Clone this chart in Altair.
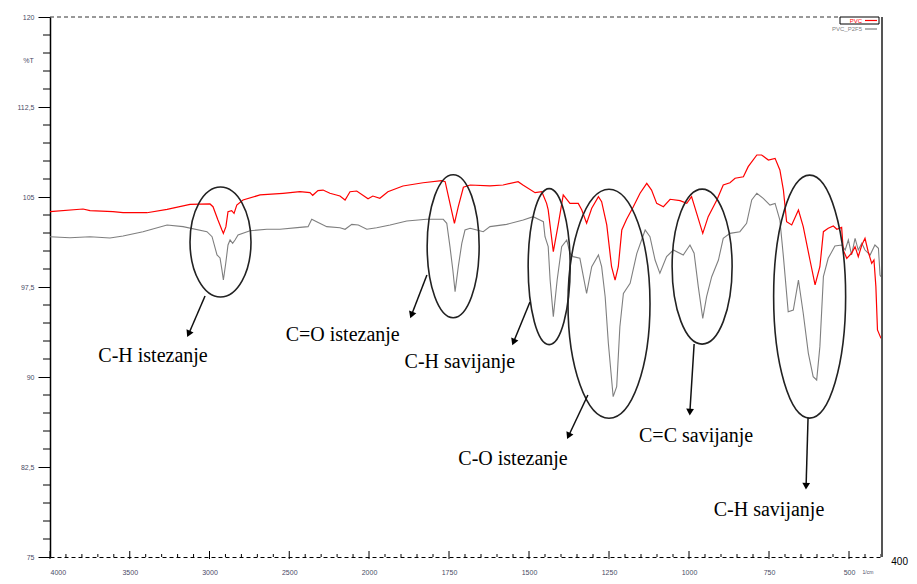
import altair as alt
import pandas as pd

# ---------------- data ----------------
pvc_wn = [4000, 3793, 3749, 3605, 3542, 3392, 3266, 3122, 2997, 2978, 2947, 2922, 2913, 2897, 2884, 2861,
          2846, 2829, 2790, 2683, 2539, 2433, 2370, 2353, 2320, 2288, 2245, 2182, 2150, 2119, 2077, 2006,
          1988, 1966, 1941, 1894, 1831, 1773, 1762, 1747, 1733, 1721, 1705, 1684, 1622, 1581, 1534, 1519,
          1481, 1460, 1445, 1440, 1424, 1408, 1393, 1372, 1346, 1335, 1320, 1304, 1283, 1273, 1257, 1242,
          1231, 1221, 1210, 1195, 1174, 1153, 1132, 1117, 1101, 1080, 1059, 1028, 1007, 992, 976, 957,
          940, 913, 893, 872, 856, 830, 815, 788, 773, 752, 731, 716, 705, 695, 679, 658, 643, 622, 606,
          591, 580, 565, 549, 538, 523, 518, 507, 492, 481, 471, 460, 450, 440, 429, 422, 416, 411, 400]
pvc_t = [103.78, 104.0, 103.86, 103.78, 103.69, 103.69, 103.97, 104.39, 104.42, 104.19, 103.08, 102.25,
         101.97, 102.53, 103.78, 103.86, 103.64, 104.33, 104.75, 105.17, 105.31, 105.44, 105.36, 105.14,
         105.53, 105.58, 105.31, 105.08, 104.75, 105.44, 105.5, 104.86, 105.08, 104.89, 105.44, 105.92,
         106.19, 106.36, 106.28, 104.47, 102.81, 104.19, 105.81, 106.0, 105.92, 106.0, 106.28, 106.0,
         105.36, 105.44, 104.47, 103.92, 100.44, 102.81, 105.17, 104.47, 104.47, 103.92, 102.81, 104.06,
         105.03, 104.61, 102.67, 99.19, 98.08, 99.19, 102.25, 103.14, 104.19, 105.31, 106.14, 105.58,
         104.47, 104.19, 104.81, 104.7, 104.47, 105.03, 103.64, 101.97, 103.36, 104.75, 106.0, 106.19,
         106.56, 106.69, 107.53, 108.5, 108.5, 108.08, 108.22, 107.25, 105.58, 102.94, 102.67, 103.92,
         102.53, 99.75, 97.67, 99.19, 102.11, 102.39, 102.58, 102.31, 102.47, 100.58, 99.89, 100.31,
         100.86, 100.03, 101.0, 101.56, 100.44, 99.47, 99.75, 97.53, 93.92, 93.22]

p2f5_wn = [4000, 3875, 3749, 3624, 3542, 3417, 3266, 3166, 3016, 2984, 2953, 2934, 2922, 2913, 2898, 2884,
           2871, 2855, 2840, 2821, 2746, 2640, 2558, 2433, 2382, 2359, 2328, 2265, 2182, 2150, 2108, 2067,
           2014, 1976, 1934, 1882, 1820, 1768, 1757, 1747, 1738, 1731, 1721, 1710, 1700, 1684, 1663, 1643,
           1622, 1570, 1518, 1487, 1466, 1455, 1450, 1440, 1434, 1424, 1412, 1398, 1382, 1372, 1362, 1341,
           1320, 1304, 1283, 1273, 1262, 1252, 1237, 1226, 1216, 1205, 1184, 1163, 1137, 1122, 1106, 1091,
           1070, 1049, 1018, 997, 984, 971, 957, 945, 929, 908, 893, 872, 841, 820, 804, 788, 768, 747,
           731, 716, 705, 690, 674, 658, 643, 627, 612, 601, 591, 580, 565, 544, 523, 512, 502, 492, 481,
           471, 460, 450, 434, 419, 408, 403, 400]
p2f5_t = [101.69, 101.61, 101.69, 101.58, 101.75, 102.11, 102.67, 102.53, 102.11, 101.69, 100.17, 99.92,
          98.92, 98.08, 99.5, 101.0, 101.42, 101.14, 101.42, 101.83, 102.19, 102.31, 102.31, 102.47, 102.53,
          103.14, 102.94, 102.53, 102.44, 102.31, 102.72, 102.67, 102.31, 102.44, 102.67, 103.0, 103.14,
          103.14, 102.81, 100.86, 98.92, 97.11, 99.19, 101.14, 102.25, 102.39, 102.25, 102.11, 102.53,
          102.72, 103.08, 103.36, 103.08, 102.94, 101.69, 100.86, 98.08, 95.03, 98.08, 100.86, 101.42,
          100.31, 100.03, 99.89, 96.97, 99.19, 100.17, 99.19, 96.69, 92.81, 88.36, 89.19, 94.19, 96.97,
          97.81, 100.31, 102.25, 101.69, 99.75, 98.64, 100.03, 100.58, 100.17, 101.0, 100.31, 97.53, 94.89,
          96.69, 98.36, 99.75, 101.56, 101.97, 102.11, 102.81, 104.75, 105.31, 104.89, 104.33, 104.47,
          103.08, 100.03, 95.44, 95.58, 98.08, 95.31, 91.97, 90.03, 89.75, 92.53, 98.36, 99.89, 100.92,
          101.0, 100.58, 101.42, 100.17, 101.56, 100.58, 101.14, 100.58, 100.17, 101.0, 100.72, 98.5, 98.36]

series_names = ["PVC", "PVC_P2F5"]
series_colors = ["#ff0000", "#7f7f7f"]

x_major = [4000, 3500, 3000, 2500, 2000, 1750, 1500, 1250, 1000, 750, 500]
y_major = [75, 82.5, 90, 97.5, 105, 112.5, 120]

# annotations: label, label position, ellipse centre, ellipse radii (px), arrow start/end
ann_labels = ["C-H istezanje", "C=O istezanje", "C-H savijanje", "C-O istezanje", "C=C savijanje", "C-H savijanje"]
ann_label_wn = [3354, 2165, 1716, 1550, 978, 750]
ann_label_t = [91.75, 93.5, 91.25, 83.17, 85.08, 78.92]
ell_wn = [2931, 1737, 1437, 1250, 959, 623]
ell_t = [101.25, 100.9, 99.2, 96.1, 99.2, 96.7]
ell_rx = [30.5, 26, 21, 41, 30, 36]
ell_ry = [55, 71.5, 78, 114.5, 77.5, 121.5]
arr_wn0 = [3028, 1819, 1497, 1316, 984, 628]
arr_t0 = [96.75, 98.5, 96.25, 88.5, 92.75, 86.58]
arr_wn1 = [3128, 1866, 1547, 1375, 997, 634]
arr_t1 = [93.67, 95.25, 93.0, 85.17, 87.17, 81.0]
arr_angle = [205, 201, 202, 205, 183, 182]

# ---------------- frames ----------------
spec = pd.concat([
    pd.DataFrame({"wn": pvc_wn, "t": pvc_t, "s": "PVC"}),
    pd.DataFrame({"wn": p2f5_wn, "t": p2f5_t, "s": "PVC_P2F5"}),
])
xminor = [v for v in range(2000, 4001, 100) if v not in x_major] + \
         [v for v in range(400, 2000, 50) if v not in x_major]
yminor = [75 + 1.5 * i for i in range(31) if i % 5 != 0]

W, H = 831, 540
xs = alt.Scale(domain=[4000, 2000, 400], range=[0, 319, W], nice=False, zero=False)
ys = alt.Scale(domain=[75, 120], nice=False, zero=False)
cs = alt.Scale(domain=series_names, range=series_colors)

label_color = "#4a4a66"

base_x = alt.X("wn:Q", scale=xs, axis=alt.Axis(
    values=x_major, format="d", title=None, grid=False, tickSize=0,
    labelFontSize=7, labelColor=label_color, labelPadding=11, labelFont="Liberation Sans",
    domainColor="#000", domainDash=[4, 3], domainWidth=1))
base_y = alt.Y("t:Q", scale=ys, axis=alt.Axis(
    values=y_major, format=".1~f", title="%T", titleAngle=0, titleX=-22, titleY=46, titleFontSize=7,
    titleFontWeight="normal", titleColor=label_color, titleFont="Liberation Sans",
    grid=False, tickSize=12, tickColor="#000", labelFontSize=7, labelColor=label_color,
    labelFont="Liberation Sans", labelPadding=4, labelExpr="replace(datum.label, '.', ',')",
    domainColor="#000", domainWidth=1.5))

grey_line = alt.Chart(spec[spec.s == "PVC_P2F5"]).mark_line(strokeWidth=1.1, color=series_colors[1]).encode(
    x=base_x, y=base_y)
red_line = alt.Chart(spec[spec.s == "PVC"]).mark_line(strokeWidth=1.2, color=series_colors[0]).encode(
    x=alt.X("wn:Q", scale=xs), y=alt.Y("t:Q", scale=ys))

# ticks
xmaj_t = alt.Chart(pd.DataFrame({"v": x_major})).mark_rule(color="#000", strokeWidth=1).encode(
    x=alt.X("v:Q", scale=xs), y=alt.value(H - 6), y2=alt.value(H + 2))
xmin_t = alt.Chart(pd.DataFrame({"v": xminor})).mark_rule(color="#000", strokeWidth=1).encode(
    x=alt.X("v:Q", scale=xs), y=alt.value(H - 3), y2=alt.value(H))
ymin_t = alt.Chart(pd.DataFrame({"v": yminor})).mark_rule(color="#000", strokeWidth=1).encode(
    y=alt.Y("v:Q", scale=ys), x=alt.value(-7), x2=alt.value(0))

# frame
top_border = alt.Chart(pd.DataFrame({"a": [0]})).mark_rule(color="#333", strokeDash=[4, 3], strokeWidth=1).encode(
    x=alt.value(0), x2=alt.value(788), y=alt.value(0))
right_border = alt.Chart(pd.DataFrame({"a": [0]})).mark_rule(color="#555", strokeWidth=2).encode(
    x=alt.value(W + 1), y=alt.value(0), y2=alt.value(H))

# legend
leg_box = alt.Chart(pd.DataFrame({"a": [0]})).mark_rect(fill="white", stroke="#000", strokeWidth=1).encode(
    x=alt.value(790), x2=alt.value(829), y=alt.value(0), y2=alt.value(7))
leg_df = pd.DataFrame({"s": series_names, "ty": [3.5, 12]})
leg_text = alt.Chart(leg_df).mark_text(align="right", baseline="middle", fontSize=6, font="Liberation Sans").encode(
    x=alt.value(812), y=alt.Y("ty:Q", scale=None), text="s:N",
    color=alt.Color("s:N", scale=cs, legend=None))
leg_line = alt.Chart(leg_df).mark_rule(strokeWidth=1.2).encode(
    x=alt.value(815), x2=alt.value(827), y=alt.Y("ty:Q", scale=None),
    color=alt.Color("s:N", scale=cs, legend=None))

# extra axis texts
t400 = alt.Chart(pd.DataFrame({"a": ["400"]})).mark_text(fontSize=10, font="Liberation Sans", color="#000",
                                                       align="right", baseline="middle").encode(
    x=alt.value(W + 27), y=alt.value(H + 5), text="a:N")
tcm = alt.Chart(pd.DataFrame({"a": ["1/cm"]})).mark_text(fontSize=5, font="Liberation Sans", color=label_color,
                                                       align="center", baseline="middle").encode(
    x=alt.value(W - 13), y=alt.value(H + 15), text="a:N")

# annotations
ann = pd.DataFrame({"lab": ann_labels, "lwn": ann_label_wn, "lt": ann_label_t,
                    "wn0": arr_wn0, "t0": arr_t0, "wn1": arr_wn1, "t1": arr_t1, "ang": arr_angle})
arrows = alt.Chart(ann).mark_rule(color="#111", strokeWidth=1.5).encode(
    x=alt.X("wn0:Q", scale=xs), y=alt.Y("t0:Q", scale=ys),
    x2="wn1:Q", y2="t1:Q")
heads = alt.Chart(ann).mark_point(shape="triangle", filled=True, color="#000", size=60, opacity=1).encode(
    x=alt.X("wn1:Q", scale=xs), y=alt.Y("t1:Q", scale=ys), angle=alt.Angle("ang:Q", scale=None))
texts = alt.Chart(ann).mark_text(font="Liberation Serif", fontSize=20, color="#000",
                                 align="center", baseline="middle").encode(
    x=alt.X("lwn:Q", scale=xs), y=alt.Y("lt:Q", scale=ys), text="lab:N")


def ellipse_path(a):
    k = 0.5523
    return (f"M {a} 0 C {a} {k}, {a*k:.4f} 1, 0 1 C {-a*k:.4f} 1, {-a} {k}, {-a} 0 "
            f"C {-a} {-k}, {-a*k:.4f} -1, 0 -1 C {a*k:.4f} -1, {a} {-k}, {a} 0 Z")


ellipses = []
for i in range(len(ell_wn)):
    a = ell_rx[i] / ell_ry[i]
    e = alt.Chart(pd.DataFrame({"wn": [ell_wn[i]], "t": [ell_t[i]]})).mark_point(
        shape=ellipse_path(round(a, 4)), size=4 * ell_ry[i] ** 2, filled=False,
        stroke="#222", strokeWidth=1.6, opacity=1).encode(
        x=alt.X("wn:Q", scale=xs), y=alt.Y("t:Q", scale=ys))
    ellipses.append(e)

chart = alt.layer(
    grey_line, red_line, xmaj_t, xmin_t, ymin_t, top_border, right_border,
    *ellipses, arrows, heads, texts, leg_box, leg_text, leg_line, t400, tcm,
).properties(
    width=W, height=H,
    padding={"left": 42, "top": 9, "right": 28, "bottom": 18},
    autosize=alt.AutoSizeParams(type="none"),
    background="white",
).configure_view(stroke=None)

chart.save("out.html", embed_options={"renderer": "svg", "actions": False})
